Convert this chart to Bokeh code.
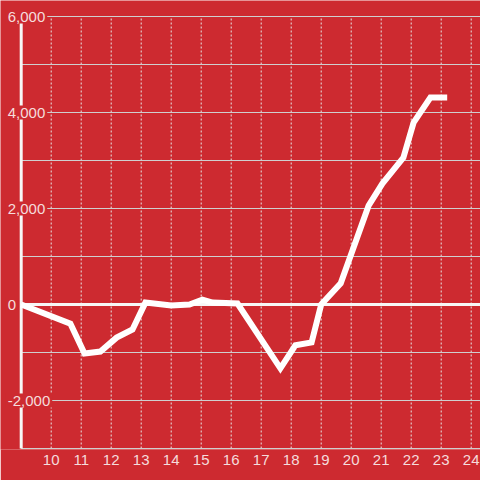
from bokeh.plotting import figure
from bokeh.models import Range1d, FixedTicker, ColumnDataSource
from bokeh.core.properties import value
from bokeh.embed import file_html
from bokeh.resources import INLINE

# ---- data ----
hours = [9.0, 10.64, 11.11, 11.64, 12.18, 12.71, 13.14, 14.0, 14.61, 15.04, 15.38,
         16.21, 17.64, 18.14, 18.68, 19.0, 19.65, 20.58, 21.04, 21.74, 22.08, 22.64, 23.2]
values = [0, -400, -1020, -980, -690, -520, 40, -20, 0, 100, 40,
          20, -1330, -850, -790, 0, 440, 2060, 2520, 3060, 3790, 4310, 4310]

x_ticks = list(range(10, 25))
y_grid_values = [-3000, -2000, -1000, 0, 1000, 2000, 3000, 4000, 5000, 6000]
y_label_values = [-2000, 0, 2000, 4000, 6000]
y_label_texts = ["-2,000", "0", "2,000", "4,000", "6,000"]

BG = "#cd2a30"
TXT = "#f5dcdc"
FONT = "Liberation Sans"

x_origin = 9
px_per_x = 30.0
px_per_y = 48.0 / 1000.0
frame_w = 480
x_start = x_origin - 20.7 / px_per_x
x_end = x_start + frame_w / px_per_x
y_min, y_max = y_grid_values[0], y_grid_values[-1]

p = figure(width=480, height=480, output_backend="svg", toolbar_location=None,
           x_range=Range1d(x_start, x_end),
           y_range=Range1d(y_min - 1 / px_per_y, y_max + 16 / px_per_y),
           min_border_left=0, min_border_right=0, min_border_top=0, min_border_bottom=31)
p.background_fill_color = BG
p.border_fill_color = BG
p.outline_line_color = None
p.yaxis.visible = False
p.grid.visible = False

# x axis
p.xaxis.ticker = FixedTicker(ticks=x_ticks)
p.xaxis.axis_line_color = None
p.xaxis.major_tick_line_color = None
p.xaxis.minor_tick_line_color = None
p.xaxis.major_tick_out = 0
p.xaxis.major_tick_in = 0
p.xaxis.major_label_standoff = 5
p.xaxis.major_label_text_color = TXT
p.xaxis.major_label_text_font = FONT
p.xaxis.major_label_text_font_size = "15px"

# vertical dotted grid
p.segment(x0=x_ticks, y0=[y_min] * len(x_ticks), x1=x_ticks, y1=[y_max] * len(x_ticks),
          line_color="#e6e6e6", line_dash="2 2", line_width=1)

# horizontal grid lines starting at the y axis
p.ray(x=[x_origin] * len(y_grid_values), y=y_grid_values, length=0, angle=0,
      line_color="#cfcfcf", line_width=1)

# zero line and y axis line
p.ray(x=[x_origin], y=[0], length=0, angle=0, line_color="#f7f7f7", line_width=3)
p.segment(x0=[x_origin], y0=[y_min], x1=[x_origin], y1=[y_max],
          line_color="#f7f7f7", line_width=3)

# y tick labels
lab = ColumnDataSource(dict(x=[x_origin] * len(y_label_values), y=y_label_values, t=y_label_texts))
p.text(x="x", y="y", text="t", source=lab, x_offset=-15.5, text_align="left",
       text_baseline="middle", text_color=TXT, text_font=value(FONT), text_font_size="15px",
       background_fill_color=BG, padding=2)

# series
p.line(hours, values, line_color="white", line_width=6, line_join="miter")

open("out.html", "w").write(file_html(p, INLINE))
